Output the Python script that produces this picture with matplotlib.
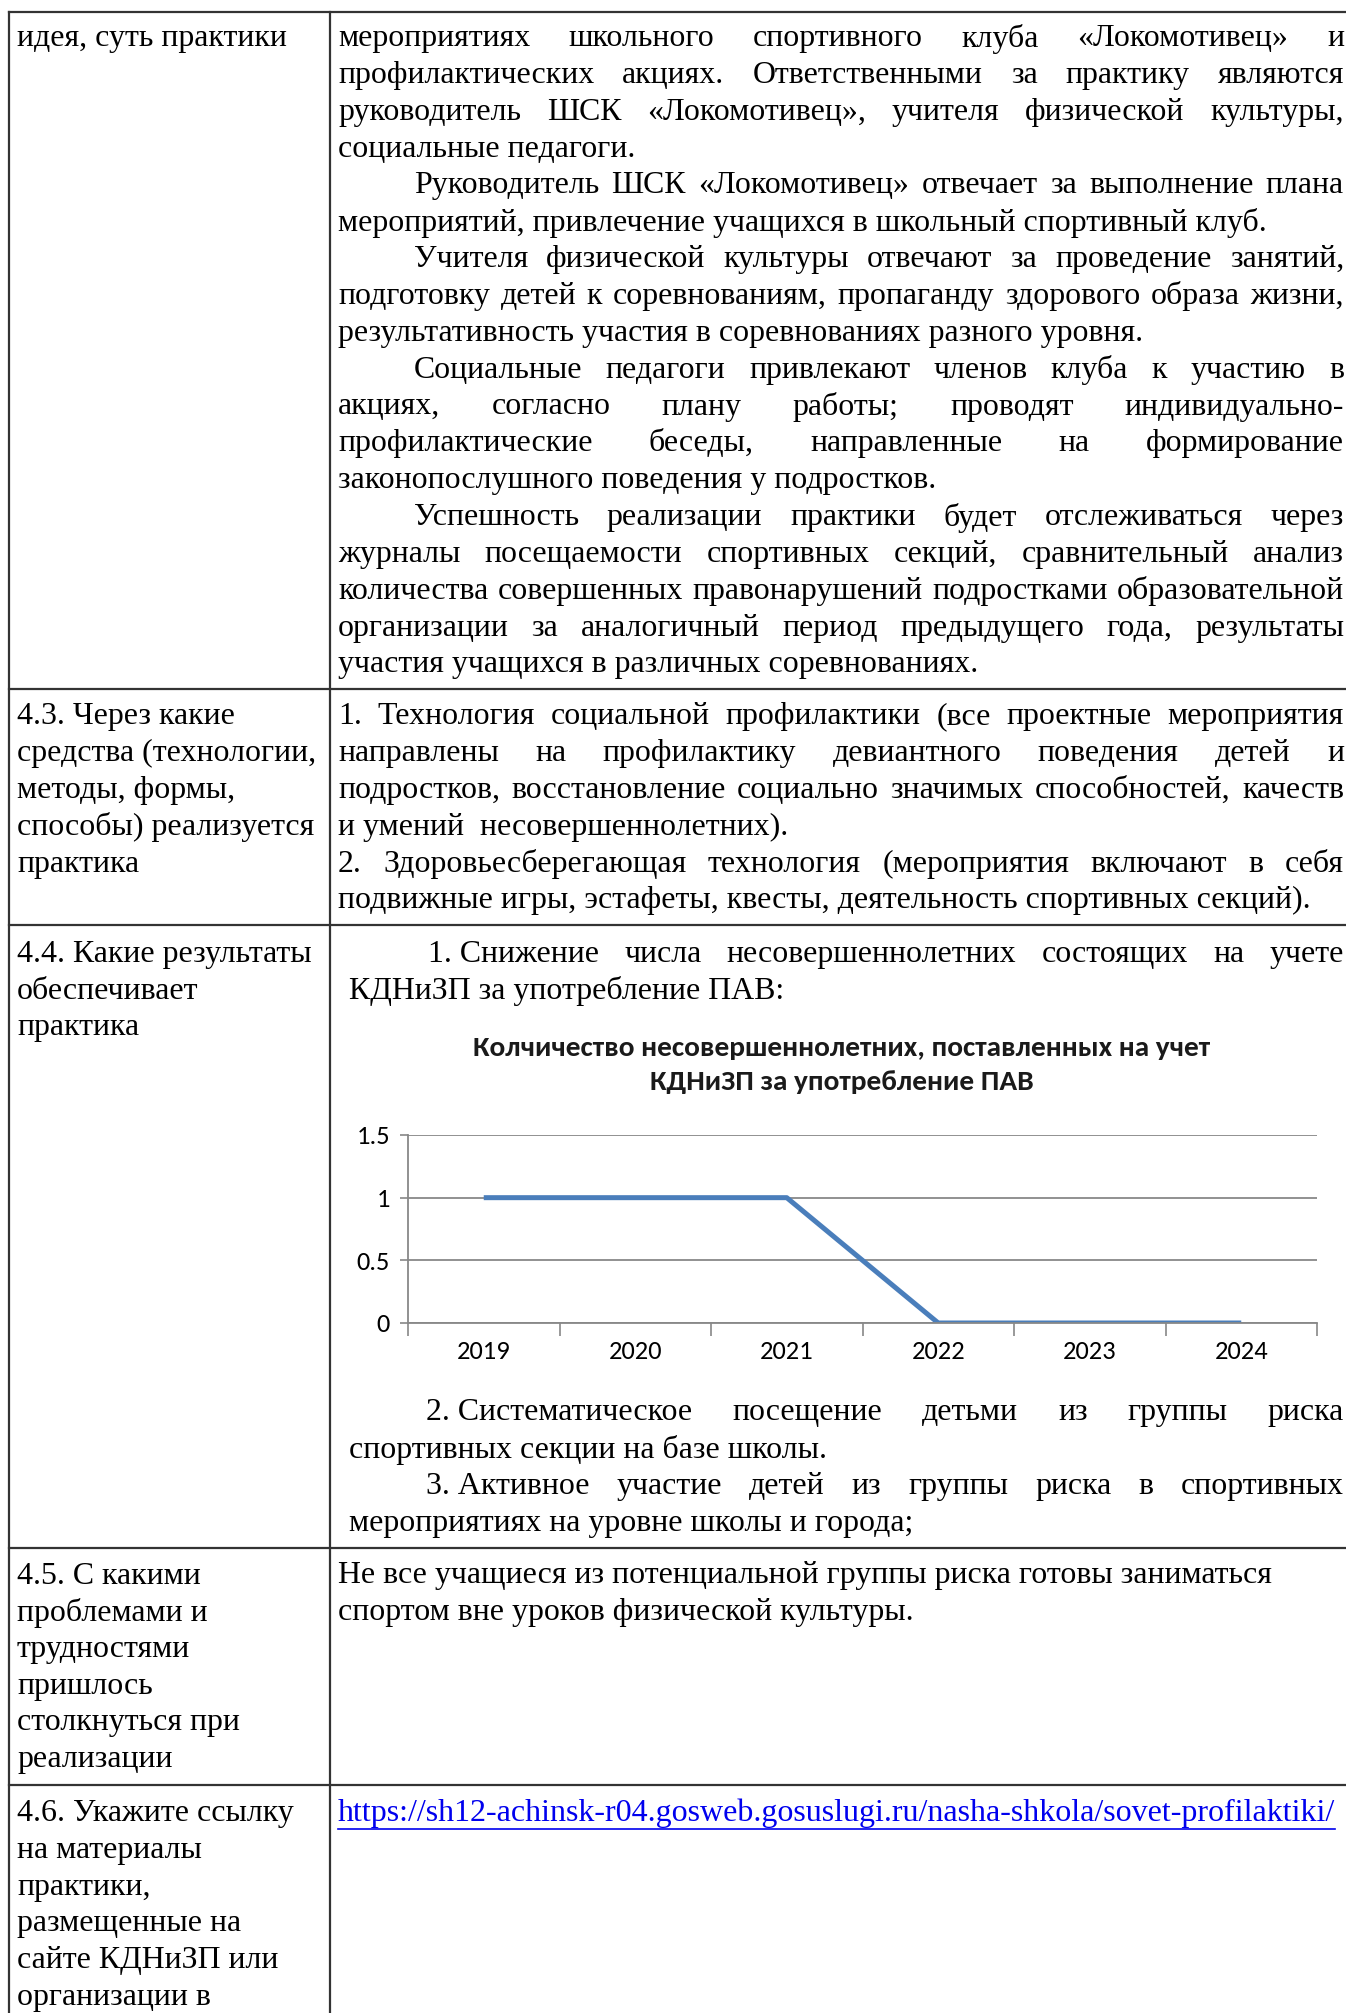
import matplotlib
matplotlib.use("Agg")
import matplotlib.pyplot as plt
from matplotlib import font_manager

# данные графика
years = ["2019", "2020", "2021", "2022", "2023", "2024"]
counts = [1, 1, 1, 0, 0, 0]
y_ticks = [0, 0.5, 1, 1.5]
y_tick_labels = ["0", "0.5", "1", "1.5"]
chart_title = "Колчичество несовершеннолетних, поставленных на учет\nКДНиЗП за употребление ПАВ"

# тексты таблицы: (текст, по ширине?, отступ)
row1_left = ["идея, суть практики"]
row1_right = [
    ("мероприятиях школьного спортивного клуба «Локомотивец» и", True, 0),
    ("профилактических акциях. Ответственными за практику являются", True, 0),
    ("руководитель ШСК «Локомотивец», учителя физической культуры,", True, 0),
    ("социальные педагоги.", False, 0),
    ("Руководитель ШСК «Локомотивец» отвечает за выполнение плана", True, 76),
    ("мероприятий, привлечение учащихся в школьный спортивный клуб.", False, 0),
    ("Учителя физической культуры отвечают за проведение занятий,", True, 76),
    ("подготовку детей к соревнованиям, пропаганду здорового образа жизни,", True, 0),
    ("результативность участия в соревнованиях разного уровня.", False, 0),
    ("Социальные педагоги привлекают членов клуба к участию в", True, 76),
    ("акциях, согласно плану работы; проводят индивидуально-", True, 0),
    ("профилактические беседы, направленные на формирование", True, 0),
    ("законопослушного поведения у подростков.", False, 0),
    ("Успешность реализации практики будет отслеживаться через", True, 76),
    ("журналы посещаемости спортивных секций, сравнительный анализ", True, 0),
    ("количества совершенных правонарушений подростками образовательной", True, 0),
    ("организации за аналогичный период предыдущего года, результаты", True, 0),
    ("участия учащихся в различных соревнованиях.", False, 0),
]
row2_left = ["4.3. Через какие", "средства (технологии,", "методы, формы,",
             "способы) реализуется", "практика"]
row2_right = [
    ("1. Технология социальной профилактики (все проектные мероприятия", True, 0),
    ("направлены на профилактику девиантного поведения детей и", True, 0),
    ("подростков, восстановление социально значимых способностей, качеств", True, 0),
    ("и умений  несовершеннолетних).", False, 0),
    ("2. Здоровьесберегающая технология (мероприятия включают в себя", True, 0),
    ("подвижные игры, эстафеты, квесты, деятельность спортивных секций).", False, 0),
]
row3_left = ["4.4. Какие результаты", "обеспечивает", "практика"]
row3_right_top = [
    ("1.\u00a0Снижение числа несовершеннолетних состоящих на учете", True, 79),
    ("КДНиЗП за употребление ПАВ:", False, 0),
]
row3_right_bottom = [
    ("2.\u00a0Систематическое посещение детьми из группы риска", True, 77),
    ("спортивных секции на базе школы.", False, 0),
    ("3.\u00a0Активное участие детей из группы риска в спортивных", True, 77),
    ("мероприятиях на уровне школы и города;", False, 0),
]
row4_left = ["4.5. С какими", "проблемами и", "трудностями", "пришлось",
             "столкнуться при", "реализации"]
row4_right = ["Не все учащиеся из потенциальной группы риска готовы заниматься",
              "спортом вне уроков физической культуры."]
row5_left = ["4.6. Укажите ссылку", "на материалы", "практики,",
             "размещенные на", "сайте КДНиЗП или", "организации в"]
url = "https://sh12-achinsk-r04.gosweb.gosuslugi.ru/nasha-shkola/sovet-profilaktiki/"

W, H = 1346, 2013
fig = plt.figure(figsize=(W / 100, H / 100), dpi=100)
page = fig.add_axes([0, 0, 1, 1])
page.set_xlim(0, W)
page.set_ylim(H, 0)
page.axis("off")
renderer = fig.canvas.get_renderer()

names = {f.name for f in font_manager.fontManager.ttflist}
serif = "Liberation Serif"
sans = "Liberation Sans"
for cand in ["Carlito", "Liberation Sans Narrow"]:
    if cand in names:
        sans = cand
        break


def width_of(s, size, family, weight="normal"):
    t = page.text(0, 0, s, fontsize=size, family=family, weight=weight)
    w = t.get_window_extent(renderer).width
    t.remove()
    return w


def fit(s, px, family, weight="normal"):
    return 10 * px / width_of(s, 10, family, weight)


# размер шрифта подобран по ширине строк на картинке
fs_main = fit("мероприятий, привлечение учащихся в школьный спортивный клуб.", 932, serif)
fs_wide = fit("Не все учащиеся из потенциальной группы риска готовы заниматься", 937, serif)
fs_title = fit("Колчичество несовершеннолетних, поставленных на учет", 738, sans, "bold")
fs_tick = fit("2019", 54, sans)

STEP = 36.85
LEFT_X = 17
RIGHT_X = 338
RIGHT_END = 1344


def put_line(x0, x1, y, s, justify, size, color="black"):
    words = [w for w in s.split(" ") if w]
    if not justify or len(words) < 2:
        page.text(x0, y, s, fontsize=size, family=serif, va="center", color=color)
        return
    ws = [width_of(w, size, serif) for w in words]
    gap = (x1 - x0 - sum(ws)) / (len(words) - 1)
    x = x0
    for w, wd in zip(words, ws):
        page.text(x, y, w, fontsize=size, family=serif, va="center")
        x += wd + gap


def put_block(lines, x0, x1, y0, size, step=STEP):
    for i, item in enumerate(lines):
        if isinstance(item, str):
            item = (item, False, 0)
        s, j, ind = item
        put_line(x0 + ind, x1, y0 + i * step, s, j, size)


# строки таблицы
put_block(row1_left, LEFT_X, 320, 38.5, fs_main)
put_block(row1_right, RIGHT_X, RIGHT_END, 38.5, fs_main)
put_block(row2_left, LEFT_X, 320, 716.7, fs_main)
put_block(row2_right, RIGHT_X, RIGHT_END, 716.7, fs_main)
put_block(row3_left, LEFT_X, 320, 954.3, fs_main)
put_block(row3_right_top, 349, RIGHT_END, 954.3, fs_main)
put_block(row3_right_bottom, 349, RIGHT_END, 1412.8, fs_main)
put_block(row4_left, LEFT_X, 320, 1576, fs_wide, 36.7)
put_block(row4_right, RIGHT_X, RIGHT_END, 1576, fs_wide, 36.7)
put_block(row5_left, LEFT_X, 320, 1813.6, fs_wide, 36.7)

t = page.text(RIGHT_X, 1813.6, url, fontsize=fit(url, 998, serif), family=serif,
              va="center", color="#0000ee")
uw = t.get_window_extent(renderer).width
page.plot([RIGHT_X, RIGHT_X + uw], [1829, 1829], color="#0000ee", lw=1.2)

# рамки таблицы
border = dict(color="#333333", lw=1.6)
page.plot([9, 9], [12, H], **border)
page.plot([330, 330], [12, H], **border)
for yy in [12, 689, 925, 1548, 1785]:
    page.plot([9, W], [yy, yy], **border)

# заголовок графика
page.text(842, 1065, chart_title, fontsize=fs_title, family=sans, weight="bold",
          ha="center", va="center", linespacing=1.45, color="#1a1a1a")

# график
ax = fig.add_axes([408 / W, 1 - 1323 / H, (1317 - 408) / W, (1323 - 1135) / H])
x = list(range(len(years)))
ax.plot(x, counts, color="#4a7ebb", lw=3.6, solid_capstyle="butt")
ax.set_xlim(-0.5, len(years) - 0.5)
ax.set_ylim(0, 1.5)
ax.set_yticks(y_ticks)
ax.set_yticklabels(y_tick_labels, family=sans, fontsize=fs_tick)
ax.set_xticks([i - 0.5 for i in range(len(years) + 1)])
ax.set_xticklabels([])
ax.set_xticks(x, minor=True)
ax.set_xticklabels(years, minor=True, family=sans, fontsize=fs_tick)
ax.tick_params(axis="x", which="major", direction="out", length=9, width=1.2,
               color="#888888")
ax.tick_params(axis="x", which="minor", length=0, pad=12)
ax.tick_params(axis="y", direction="out", length=6, width=1.2, color="#888888", pad=7)
ax.yaxis.grid(True, color="#888888", lw=1.3)
ax.set_axisbelow(True)
for side in ["top", "right"]:
    ax.spines[side].set_visible(False)
for side in ["left", "bottom"]:
    ax.spines[side].set_color("#888888")
    ax.spines[side].set_linewidth(1.3)
ax.patch.set_alpha(0)

fig.savefig("out.png", dpi=100)
